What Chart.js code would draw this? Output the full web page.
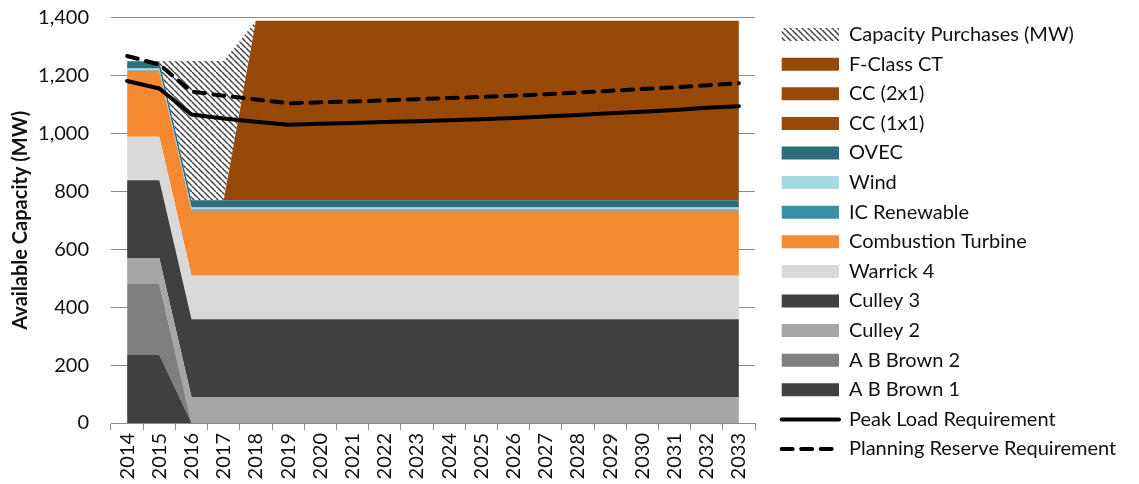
<!DOCTYPE html>
<html>
<head>
<meta charset="utf-8">
<script src="https://cdn.jsdelivr.net/npm/chart.js@4.4.1/dist/chart.umd.min.js"></script>
<style>
  html, body { margin: 0; padding: 0; background: #ffffff; }
  #wrap { width: 1139px; height: 484px; }
</style>
</head>
<body>
<div id="wrap"><canvas id="capacityChart" width="1139" height="484"></canvas></div>
<script>
// Planning years (category axis)
const years = ['2014', '2015', '2016', '2017', '2018', '2019', '2020', '2021', '2022', '2023',
               '2024', '2025', '2026', '2027', '2028', '2029', '2030', '2031', '2032', '2033'];

// Value-axis tick labels (MW)
const capacityTicks = [0, 200, 400, 600, 800, 1000, 1200, 1400];

// Available capacity by resource, MW (stacked bottom to top)
const abBrown1       = [235, 235, 0, 0, 0, 0, 0, 0, 0, 0, 0, 0, 0, 0, 0, 0, 0, 0, 0, 0];
const abBrown2       = [245, 245, 0, 0, 0, 0, 0, 0, 0, 0, 0, 0, 0, 0, 0, 0, 0, 0, 0, 0];
const culley2        = [90, 90, 90, 90, 90, 90, 90, 90, 90, 90, 90, 90, 90, 90, 90, 90, 90, 90, 90, 90];
const culley3        = [268, 268, 268, 268, 268, 268, 268, 268, 268, 268, 268, 268, 268, 268, 268, 268, 268, 268, 268, 268];
const warrick4       = [150, 150, 150, 150, 150, 150, 150, 150, 150, 150, 150, 150, 150, 150, 150, 150, 150, 150, 150, 150];
const combustionTurb = [225, 225, 225, 225, 225, 225, 225, 225, 225, 225, 225, 225, 225, 225, 225, 225, 225, 225, 225, 225];
const icRenewable    = [4, 4, 4, 4, 4, 4, 4, 4, 4, 4, 4, 4, 4, 4, 4, 4, 4, 4, 4, 4];
const wind           = [7, 7, 7, 7, 7, 7, 7, 7, 7, 7, 7, 7, 7, 7, 7, 7, 7, 7, 7, 7];
const ovec           = [25, 25, 25, 25, 25, 25, 25, 25, 25, 25, 25, 25, 25, 25, 25, 25, 25, 25, 25, 25];
const cc1x1          = [0, 0, 0, 0, 0, 0, 0, 0, 0, 0, 0, 0, 0, 0, 0, 0, 0, 0, 0, 0];
const cc2x1          = [0, 0, 0, 0, 620, 620, 620, 620, 620, 620, 620, 620, 620, 620, 620, 620, 620, 620, 620, 620];
const fClassCT       = [0, 0, 0, 0, 0, 0, 0, 0, 0, 0, 0, 0, 0, 0, 0, 0, 0, 0, 0, 0];
const capPurchases   = [0, 0, 481, 481, 0, 0, 0, 0, 0, 0, 0, 0, 0, 0, 0, 0, 0, 0, 0, 0];

// Requirements, MW
const peakLoad        = [1181, 1155, 1065, 1051, 1040, 1030, 1033, 1036, 1039, 1042,
                         1045, 1049, 1053, 1058, 1063, 1069, 1075, 1081, 1088, 1094];
const planningReserve = [1267, 1238, 1144, 1130, 1117, 1104, 1107, 1110, 1114, 1118,
                         1122, 1126, 1130, 1135, 1141, 1147, 1153, 1159, 1166, 1173];

// Diagonal hatch used for purchased capacity
function makeHatch() {
  const size = 6;
  const c = document.createElement('canvas');
  c.width = size; c.height = size;
  const g = c.getContext('2d');
  g.fillStyle = '#ffffff';
  g.fillRect(0, 0, size, size);
  g.strokeStyle = '#444444';
  g.lineWidth = 1.5;
  g.beginPath();
  for (const o of [-size, 0, size]) { g.moveTo(o, 0); g.lineTo(o + size, size); }
  g.stroke();
  return g.createPattern(c, 'repeat');
}
const hatch = makeHatch();

const BROWN = '#984807';
const areaSeries = [
  { label: 'A B Brown 1',             data: abBrown1,       color: '#404040' },
  { label: 'A B Brown 2',             data: abBrown2,       color: '#7f7f7f' },
  { label: 'Culley 2',                data: culley2,        color: '#a6a6a6' },
  { label: 'Culley 3',                data: culley3,        color: '#404040' },
  { label: 'Warrick 4',               data: warrick4,       color: '#d9d9d9' },
  { label: 'Combustion Turbine',      data: combustionTurb, color: '#f68a33' },
  { label: 'IC Renewable',            data: icRenewable,    color: '#3891a7' },
  { label: 'Wind',                    data: wind,           color: '#a8d8e3' },
  { label: 'OVEC',                    data: ovec,           color: '#2d6e7b' },
  { label: 'CC (1x1)',                data: cc1x1,          color: BROWN },
  { label: 'CC (2x1)',                data: cc2x1,          color: BROWN },
  { label: 'F-Class CT',              data: fClassCT,       color: BROWN },
  { label: 'Capacity Purchases (MW)', data: capPurchases,   color: hatch }
];
const AREA_COUNT = areaSeries.length;

const datasets = areaSeries.map((s, i) => ({
  label: s.label,
  data: s.data,
  backgroundColor: s.color,
  borderColor: 'rgba(0,0,0,0)',
  borderWidth: 0,
  fill: i === 0 ? 'origin' : '-1',
  pointRadius: 0,
  pointHoverRadius: 0,
  tension: 0,
  order: 1
}));
datasets.push({
  label: 'Peak Load Requirement',
  data: peakLoad,
  borderColor: '#000000',
  backgroundColor: '#000000',
  borderWidth: 4,
  borderCapStyle: 'round',
  borderJoinStyle: 'round',
  fill: false,
  pointRadius: 0,
  pointHoverRadius: 0,
  tension: 0,
  stack: 'peak',
  order: 0
});
datasets.push({
  label: 'Planning Reserve Requirement',
  data: planningReserve,
  borderColor: '#000000',
  backgroundColor: '#000000',
  borderWidth: 4,
  borderDash: [11, 8.5],
  borderCapStyle: 'round',
  borderJoinStyle: 'round',
  fill: false,
  pointRadius: 0,
  pointHoverRadius: 0,
  tension: 0,
  stack: 'reserve',
  order: 0
});

const FONT = 'Lato, "Open Sans", sans-serif';
const TEXT = '#111111';
const GRID = '#8a8a8a';

// Fixed legend column width so the key sits right of the plot
const legendWidthPlugin = {
  id: 'legendWidth',
  afterInit(chart) {
    const lg = chart.legend;
    const fit = lg.fit.bind(lg);
    lg.fit = function () { fit(); this.width = 366.9; };
  }
};

Chart.defaults.font.family = FONT;
Chart.defaults.color = TEXT;

new Chart(document.getElementById('capacityChart'), {
  type: 'line',
  data: { labels: years, datasets },
  plugins: [legendWidthPlugin],
  options: {
    responsive: false,
    animation: false,
    events: [],
    locale: 'en-US',
    layout: { padding: 0 },
    scales: {
      x: {
        type: 'category',
        offset: true,
        grid: { display: true, drawOnChartArea: false, drawTicks: true, tickLength: 7, color: GRID, offset: true },
        border: { display: true, color: GRID, width: 1 },
        ticks: { autoSkip: false, maxRotation: 90, minRotation: 90, padding: 3, font: { size: 20 }, color: TEXT },
        afterFit(s) { s.height = 61; s.paddingLeft = 0; s.paddingRight = 0; }
      },
      y: {
        stacked: true,
        min: 0,
        max: 1400,
        grid: { color: GRID, drawTicks: false, lineWidth: 1 },
        border: { display: false },
        ticks: { padding: 22, font: { size: 20 }, color: TEXT },
        afterBuildTicks(s) { s.ticks = capacityTicks.map(v => ({ value: v })); },
        title: {
          display: true,
          text: 'Available Capacity (MW)',
          font: { size: 20, weight: 'bold' },
          color: TEXT,
          padding: { top: 9, bottom: 0 }
        },
        afterFit(s) { s.width = 111; s.paddingTop = 17.5; }
      },
      gap: {
        position: 'right',
        display: true,
        grid: { display: false },
        border: { display: false },
        ticks: { display: false },
        afterFit(s) { s.width = 17.1; }
      }
    },
    plugins: {
      tooltip: { enabled: false },
      legend: {
        position: 'right',
        align: 'start',
        title: { display: true, text: '', padding: 0, font: { size: 10, lineHeight: '15px' } },
        labels: {
          usePointStyle: true,
          pointStyleWidth: 57.3,
          boxHeight: 13,
          padding: 9.6,
          color: TEXT,
          font: { size: 20 },
          generateLabels(chart) {
            const ds = chart.data.datasets;
            const items = [];
            for (let i = AREA_COUNT - 1; i >= 0; i--) {
              items.push({
                text: ds[i].label, fillStyle: ds[i].backgroundColor, strokeStyle: 'rgba(0,0,0,0)',
                lineWidth: 0, pointStyle: 'rect', hidden: false, datasetIndex: i, fontColor: TEXT
              });
            }
            for (let i = AREA_COUNT; i < ds.length; i++) {
              items.push({
                text: ds[i].label, fillStyle: 'rgba(0,0,0,0)', strokeStyle: '#000000',
                lineWidth: 4, lineDash: ds[i].borderDash || [], lineCap: 'round',
                pointStyle: 'line', hidden: false, datasetIndex: i, fontColor: TEXT
              });
            }
            return items;
          }
        }
      }
    }
  }
});
</script>
</body>
</html>
